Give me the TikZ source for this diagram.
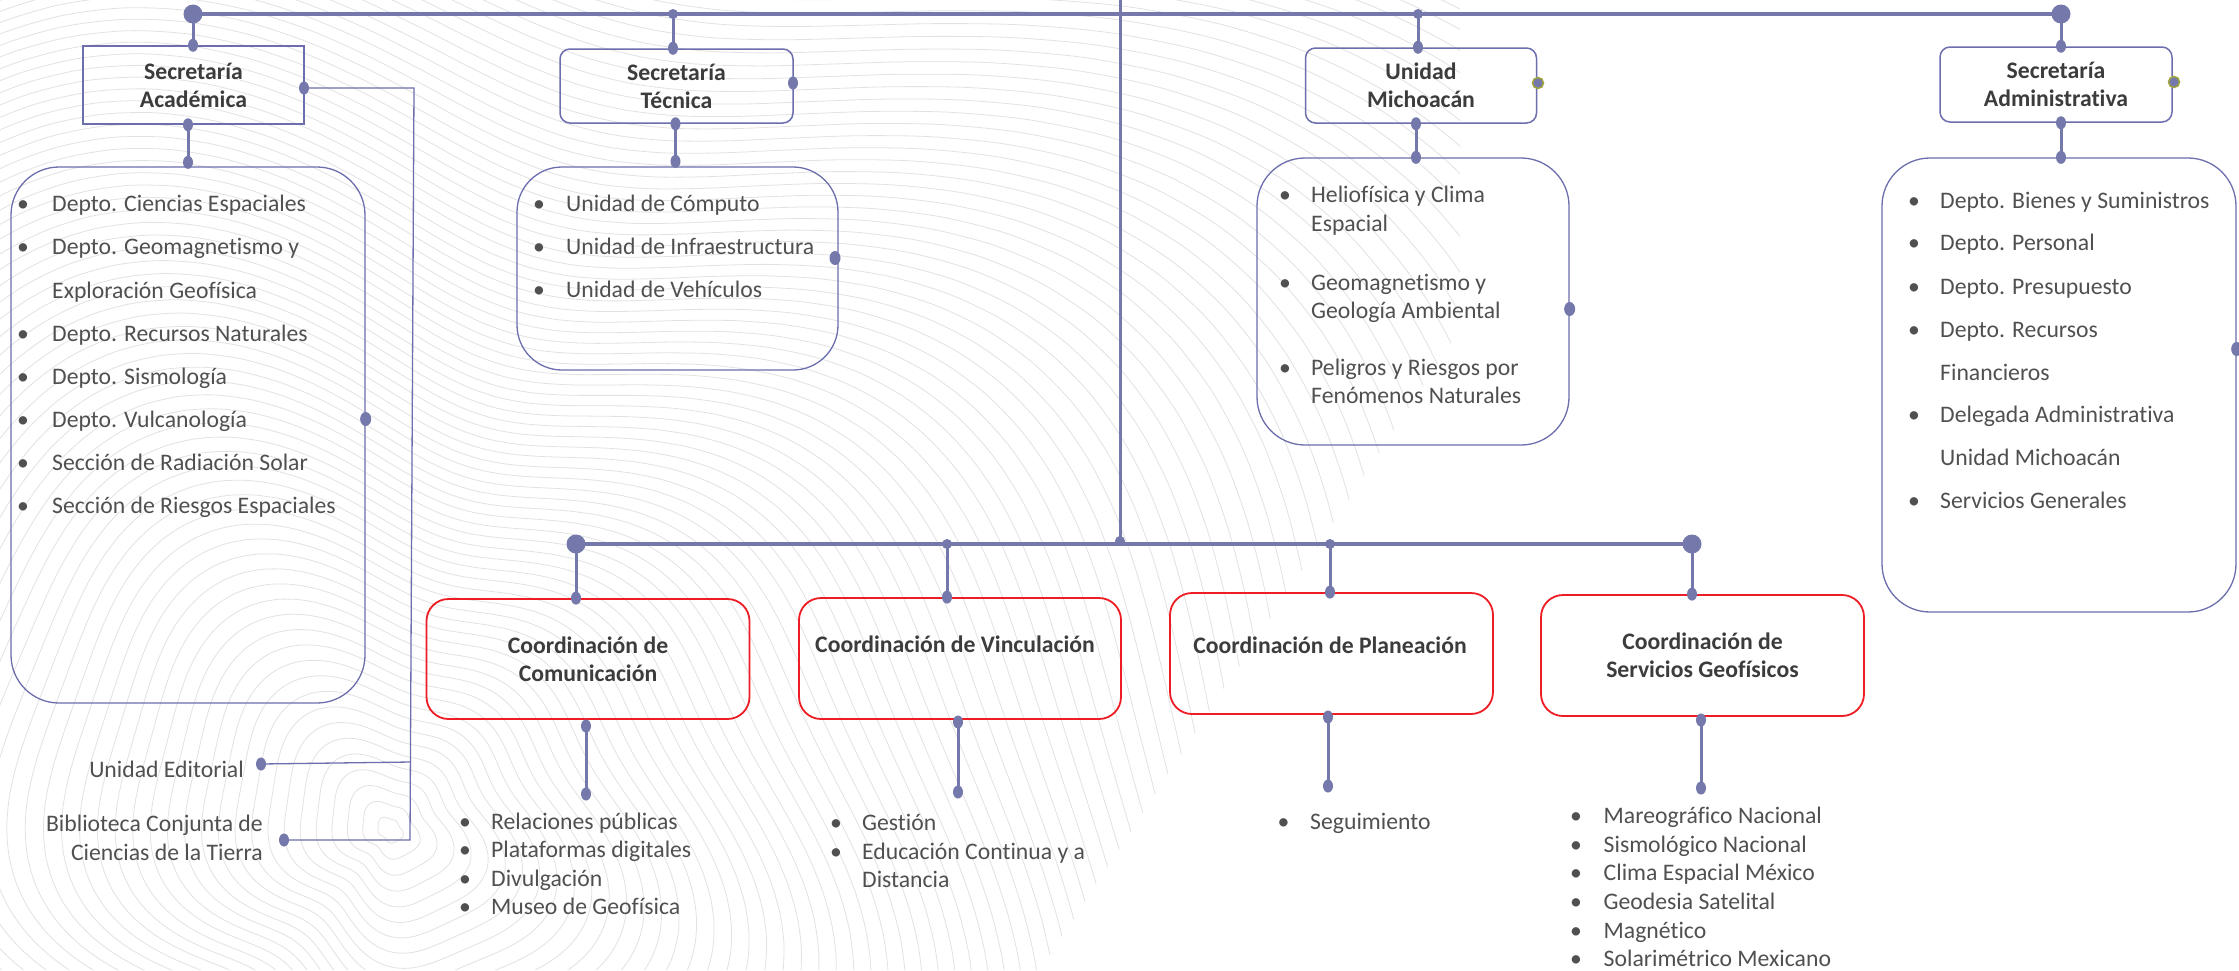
\documentclass[tikz,border=0pt]{standalone}
\usepackage{fontspec}
\usetikzlibrary{shapes.geometric}
\setmainfont{Carlito}[Ligatures=NoCommon]
\definecolor{lineb}{RGB}{116,120,170}
\definecolor{boxb}{RGB}{108,110,174}
\definecolor{redb}{RGB}{238,28,36}
\definecolor{txt}{RGB}{80,80,80}
\definecolor{ttl}{RGB}{60,60,60}
\definecolor{olivec}{RGB}{160,165,60}
\definecolor{topo}{RGB}{226,226,226}
\newcommand\mklist[4]{%
  \foreach \yy/\bb/\itx [count=\i] in {#4}{%
    \node[lt] (#1t\i) at (#3,\yy+7) {\itx};
    \ifnum\bb=1 \node[lt] (#1b\i) at (#2,\yy+7) {•};\fi
  }}
\begin{document}
\begin{tikzpicture}[x=1pt,y=-1pt,
  bar/.style={draw=lineb,line width=4.5pt},
  conn/.style={draw=lineb,line width=3pt},
  thinl/.style={draw=boxb,line width=1.3pt},
  sdot/.style={circle,fill=lineb,inner sep=0pt,minimum size=10pt},
  bdot/.style={circle,fill=lineb,inner sep=0pt,minimum size=19pt},
  edot/.style={ellipse,fill=lineb,inner sep=0pt,minimum width=10pt,minimum height=13pt},
  odot/.style={circle,fill=lineb,draw=olivec,line width=1.5pt,inner sep=0pt,minimum size=11pt},
  ttlfont/.style={font=\bfseries\fontsize{23.7}{28}\selectfont,text=ttl},
  ttlbox/.style={draw=boxb,line width=1.5pt,rounded corners=10pt,align=center,ttlfont,inner sep=0pt},
  lbox/.style={draw=boxb,line width=1.3pt,rounded corners=48pt,inner sep=0pt},
  redbox/.style={draw=redb,line width=1.8pt,rounded corners=22pt,align=center,ttlfont,inner sep=0pt},
  lt/.style={font=\fontsize{23.7}{28}\selectfont,text=txt,anchor=base west,inner sep=0pt},
  lte/.style={lt,anchor=base east},
  topoline/.style={draw=topo,line width=0.8pt},
]
\useasboundingbox (0,0) rectangle (2239,970);
\fill[white] (0,0) rectangle (2239,970);

% ---------- background contour texture
\begin{scope}
\clip (0,0) -- (1460,0) -- (1460,330) -- (1040,970) -- (0,970) -- cycle;
\foreach \r in {12,27,...,1350}
  \draw[topoline] plot[smooth cycle,domain=0:356,samples=90]
   ({390+\r*(1+0.17*sin(2*\x+\r/12)+0.07*sin(5*\x-\r/10))*cos(\x)},
    {830+\r*(1+0.17*sin(2*\x+\r/12)+0.07*sin(5*\x-\r/10))*sin(\x)});
\end{scope}

% ---------- upper boxes
\node[ttlbox,rounded corners=0pt,minimum width=221pt,minimum height=78pt] (sa) at (193.5,85) {Secretaría\\Académica};
\node[ttlbox,minimum width=233pt,minimum height=74pt] (st) at (676.5,86) {Secretaría\\Técnica};
\node[ttlbox,minimum width=231pt,minimum height=75pt] (um) at (1421,85.5) {Unidad\\Michoacán};
\node[ttlbox,minimum width=232pt,minimum height=75pt] (sadm) at (2056,84.5) {Secretaría\\Administrativa};

\node[lbox,minimum width=354pt,minimum height=536pt] (salist) at (188,435) {};
\node[lbox,rounded corners=45pt,minimum width=321pt,minimum height=203pt] (stlist) at (677.5,268.5) {};
\node[lbox,minimum width=312pt,minimum height=287pt] (umlist) at (1413,301.5) {};
\node[lbox,minimum width=354pt,minimum height=454pt] (admlist) at (2059,385) {};

% ---------- lower boxes
\node[redbox,minimum width=323pt,minimum height=120pt] (cc) at (588,659) {Coordinación de\\Comunicación};
\node[redbox,minimum width=322pt,minimum height=121pt] (cv) at (960,658.5) {};
\node[ttlfont,inner sep=0pt] (cvt) at (955,644) {Coordinación de Vinculación};
\node[redbox,minimum width=323pt,minimum height=121pt] (cp) at (1331.5,653.5) {};
\node[ttlfont,inner sep=0pt] (cpt) at (1330,645) {Coordinación de Planeación};
\node[redbox,minimum width=323pt,minimum height=121pt] (cs) at (1702.5,655.5) {Coordinación de\\Servicios Geofísicos};

% ---------- coordinates
\coordinate (topL) at (193,14);
\coordinate (topT) at (673,14);
\coordinate (topM) at (1418,14);
\coordinate (topR) at (2061,14);
\coordinate (ctop) at (1120,0);
\coordinate (cmid) at (1120,541);
\coordinate (botL) at (576,544);
\coordinate (botV) at (947,544);
\coordinate (botP) at (1330,544);
\coordinate (botR) at (1692,544);

\coordinate (saN) at (topL |- sa.north);
\coordinate (stN) at (topT |- st.north);
\coordinate (umN) at (topM |- um.north);
\coordinate (sadmN) at (topR |- sadm.north);

\coordinate (saS) at (salist.north |- sa.south);
\coordinate (salN) at ([yshift=4pt]salist.north);
\coordinate (stS) at ([xshift=-2pt]stlist.north |- st.south);
\coordinate (stlN) at ([xshift=-2pt,yshift=5pt]stlist.north);
\coordinate (umS) at ([xshift=3pt]umlist.north |- um.south);
\coordinate (umlN) at ([xshift=3pt]umlist.north);
\coordinate (admS) at ([xshift=2pt]admlist.north |- sadm.south);
\coordinate (admlN) at ([xshift=2pt]admlist.north);

\coordinate (ccN) at (botL |- cc.north);
\coordinate (cvN) at (botV |- cv.north);
\coordinate (cpN) at (botP |- cp.north);
\coordinate (csN) at (botR |- cs.north);

\coordinate (cc1) at (586,726);  \coordinate (cc2) at (586,794);
\coordinate (cv1) at (958,722);  \coordinate (cv2) at (958,792);
\coordinate (cp1) at (1328,717); \coordinate (cp2) at (1328,786);
\coordinate (cs1) at (1701,720); \coordinate (cs2) at (1701,788);

\coordinate (saE) at (304,88);
\coordinate (k1) at (414,88);
\coordinate (k2) at (410,840);
\coordinate (k3) at (411,762);
\coordinate (edE) at (261,764);
\coordinate (biE) at (284,840);

% ---------- lines
\draw[bar] (topL) -- (topR);
\draw[bar] (botL) -- (botR);
\draw[conn] (ctop) -- (cmid);
\draw[conn] (topL) -- (saN);
\draw[conn] (topT) -- (stN);
\draw[conn] (topM) -- (umN);
\draw[conn] (topR) -- (sadmN);
\draw[conn] (saS) -- (salN);
\draw[conn] (stS) -- (stlN);
\draw[conn] (umS) -- (umlN);
\draw[conn] (admS) -- (admlN);
\draw[conn] (botL) -- (ccN);
\draw[conn] (botV) -- (cvN);
\draw[conn] (botP) -- (cpN);
\draw[conn] (botR) -- (csN);
\draw[conn] (cc1) -- (cc2);
\draw[conn] (cv1) -- (cv2);
\draw[conn] (cp1) -- (cp2);
\draw[conn] (cs1) -- (cs2);
\draw[thinl] (saE) -- (k1) -- (k2) -- (biE);
\draw[thinl] (edE) -- (k3);

% ---------- dots
\node[bdot] (dtopL) at (topL) {};
\node[bdot] (dtopR) at (topR) {};
\node[sdot] (dtopT) at (topT) {};
\node[sdot] (dtopM) at (topM) {};
\node[bdot] (dbotL) at (botL) {};
\node[bdot] (dbotR) at (botR) {};
\node[sdot] (dbotV) at (botV) {};
\node[sdot] (dbotP) at (botP) {};
\node[sdot] (dcmid) at (cmid) {};
\foreach \c in {saN,stN,umN,sadmN,saS,salN,stS,stlN,umS,umlN,admS,admlN,ccN,cvN,cpN,csN,cc1,cc2,cv1,cv2,cp1,cp2,cs1,cs2}
  \node[edot] (d\c) at (\c) {};
\node[edot] (dsaE) at (saE) {};
\node[edot] (dedE) at (edE) {};
\node[edot] (dbiE) at (biE) {};
\node[edot] (dstE) at (793,83) {};
\node[odot] (dumE) at (1538,83) {};
\node[odot] (dsadmE) at (2174,82) {};
\node[edot,minimum width=11pt,minimum height=14pt] (dsalE) at (salist.east |- 0,419) {};
\node[edot,minimum width=11pt,minimum height=14pt] (dstlE) at (835,258) {};
\node[edot,minimum width=11pt,minimum height=14pt] (dumlE) at (umlist.east |- 0,309) {};
\node[edot,minimum width=11pt,minimum height=14pt] (dadmlE) at (admlist.east |- 0,349) {};

% ---------- texts
\node[lte] (ued) at (244,777) {Unidad Editorial};
\node[lte] (bib1) at (263,831) {Biblioteca Conjunta de};
\node[lte] (bib2) at (263,860) {Ciencias de la Tierra};

\mklist{a}{17}{52}{204/1/Depto. Ciencias Espaciales, 247/1/Depto. Geomagnetismo y, 291/0/Exploración Geofísica, 334/1/Depto. Recursos Naturales, 377/1/Depto. Sismología, 420/1/Depto. Vulcanología, 463/1/Sección de Radiación Solar, 506/1/Sección de Riesgos Espaciales}
\mklist{t}{533}{566}{204/1/Unidad de Cómputo, 247/1/Unidad de Infraestructura, 290/1/Unidad de Vehículos}
\mklist{m}{1279}{1311}{195/1/Heliofísica y Clima, 224/0/Espacial, 283/1/Geomagnetismo y, 311/0/Geología Ambiental, 368/1/Peligros y Riesgos por, 396/0/Fenómenos Naturales}
\mklist{d}{1908}{1940}{201/1/Depto. Bienes y Suministros, 243/1/Depto. Personal, 287/1/Depto. Presupuesto, 330/1/Depto. Recursos, 373/0/Financieros, 415/1/Delegada Administrativa, 458/0/Unidad Michoacán, 501/1/Servicios Generales}
\mklist{c}{459}{491}{822/1/Relaciones públicas, 850/1/Plataformas digitales, 879/1/Divulgación, 907/1/Museo de Geofísica}
\mklist{v}{830}{862}{823/1/Gestión, 852/1/Educación Continua y a, 880/0/Distancia}
\mklist{p}{1277.5}{1310}{822/1/Seguimiento}
\mklist{s}{1570}{1603.5}{816/1/Mareográfico Nacional, 845/1/Sismológico Nacional, 873/1/Clima Espacial México, 902/1/Geodesia Satelital, 931/1/Magnético, 959/1/Solarimétrico Mexicano}
\end{tikzpicture}
\end{document}
